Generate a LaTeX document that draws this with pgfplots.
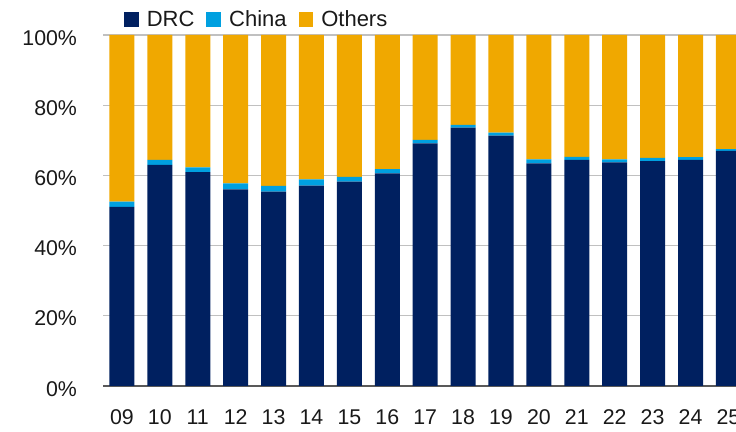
\documentclass[border=0pt]{standalone}
\usepackage{fontspec}
\setmainfont{Liberation Sans}
\usepackage{pgfplots}
\pgfplotsset{compat=1.18}
\definecolor{drc}{HTML}{002060}
\definecolor{china}{HTML}{00A0E0}
\definecolor{others}{HTML}{F0A800}
\definecolor{gridc}{HTML}{C0C0C0}
\begin{document}
\begin{tikzpicture}
\path[use as bounding box] (0pt,0pt) rectangle (552pt,324pt);
\begin{axis}[
  at={(77.25pt,34.5pt)}, anchor=south west,
  scale only axis, width=474.75pt, height=263.25pt,
  ybar stacked, bar width=0.66,
  xmin=-0.5, xmax=16.2, ymin=0, ymax=100,
  xtick={0,...,16},
  xticklabels={09,10,11,12,13,14,15,16,17,18,19,20,21,22,23,24,25},
  ytick={0,20,40,60,80,100},
  yticklabel={\pgfmathprintnumber{\tick}\%},
  /pgf/number format/assume math mode=true,
  major tick length=0pt,
  axis x line*=bottom, axis y line*=left,
  y axis line style={draw=none},
  x axis line style={draw=black!65, line width=1.3pt},
  ymajorgrids, grid style={gridc, line width=1pt},
  tick label style={font=\fontsize{16}{19}\selectfont, text=black!90},
  yticklabel style={xshift=-16pt, yshift=-2pt},
  xticklabel style={yshift=-14pt},
  clip=true,
  legend columns=-1,
  legend style={draw=none, fill=none, at={(0.033,1.043)}, anchor=west,
    font=\fontsize{16.5}{19}\selectfont, text=black!90, inner xsep=0pt,
    /tikz/every odd column/.append style={column sep=4pt},
    /tikz/every even column/.append style={column sep=7pt}},
  legend image code/.code={\fill[#1] (0pt,-5pt) rectangle (11pt,6pt);},
]
\addplot[fill=drc, draw=none] coordinates {
(0,51.0) (1,63.0) (2,60.9) (3,56.0) (4,55.4) (5,57.1) (6,58.2) (7,60.6) (8,69.1)
(9,73.6) (10,71.3) (11,63.4) (12,64.4) (13,63.7) (14,64.1) (15,64.4) (16,67.0)};
\addplot[fill=china, draw=none] coordinates {
(0,1.5) (1,1.4) (2,1.4) (3,1.7) (4,1.6) (5,1.8) (6,1.4) (7,1.2) (8,1.0)
(9,0.8) (10,0.9) (11,1.2) (12,0.9) (13,0.9) (14,0.9) (15,0.8) (16,0.5)};
\addplot[fill=others, draw=none] coordinates {
(0,47.5) (1,35.6) (2,37.7) (3,42.3) (4,43.0) (5,41.1) (6,40.4) (7,38.2) (8,29.9)
(9,25.6) (10,27.8) (11,35.4) (12,34.7) (13,35.4) (14,35.0) (15,34.8) (16,32.5)};
\legend{DRC, China, Others}
\end{axis}
\end{tikzpicture}
\end{document}
